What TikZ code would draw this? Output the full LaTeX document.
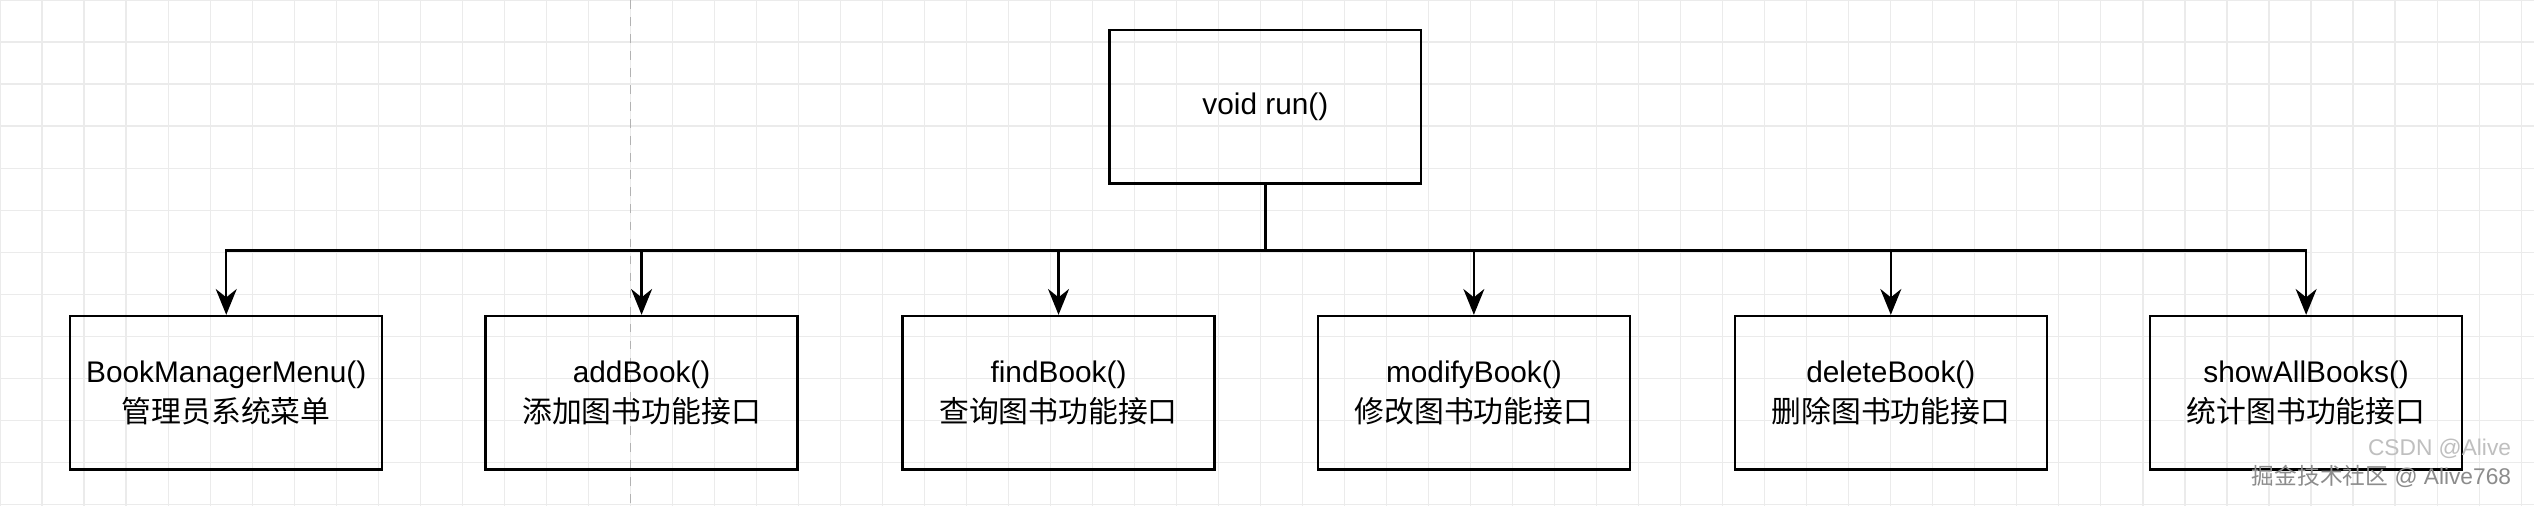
\documentclass[tikz,border=0pt]{standalone}
\usepackage{fontspec}
\setmainfont{Liberation Sans}
\newfontfamily\cjk{Noto Sans CJK SC}
\usetikzlibrary{positioning,arrows.meta}

\begin{document}
\begin{tikzpicture}[x=0.2mm,y=-0.2mm,>={Stealth[length=3.2mm,width=2.6mm]}]
\tikzstyle{every node}=[font=\fontsize{10.5}{14}\selectfont]
\tikzstyle{func}=[draw, thick, minimum width=38.6mm, minimum height=19mm, align=center, inner sep=0pt]

% background
\useasboundingbox (0,0) rectangle (1568,313);
\fill[white] (0,0) rectangle (1568,313);
\foreach \x in {0,26,...,1568}
  \draw[black!8] (\x,0) -- (\x,313);
\foreach \y in {0,26,...,313}
  \draw[black!8] (0,\y) -- (1568,\y);
\draw[black!30, dashed] (390,0) -- (390,313);

% Root
\node[func] (run) at (783,66) {void run()};

% Children
\node[func] (m1) at (140,243) {BookManagerMenu()\\{\cjk 管理员系统菜单}};
\node[func] (m2) at (397,243) {addBook()\\{\cjk 添加图书功能接口}};
\node[func] (m3) at (655,243) {findBook()\\{\cjk 查询图书功能接口}};
\node[func] (m4) at (912,243) {modifyBook()\\{\cjk 修改图书功能接口}};
\node[func] (m5) at (1170,243) {deleteBook()\\{\cjk 删除图书功能接口}};
\node[func] (m6) at (1427,243) {showAllBooks()\\{\cjk 统计图书功能接口}};

% Connectors
\coordinate (bus) at (783,155);
\draw[thick] (run.south) -- (bus);
\foreach \i in {1,...,6}
  \draw[thick,->] (bus) -| (m\i.north);

% watermark
\node[anchor=south east, text=black!45, font=\fontsize{8}{9}\selectfont] (mark) at (1560,308) {{\cjk 掘金技术社区} @ Alive768};
\node[anchor=south east, text=black!25, font=\fontsize{8}{9}\selectfont] at (1560,290) {CSDN @Alive};
\end{tikzpicture}
\end{document}
